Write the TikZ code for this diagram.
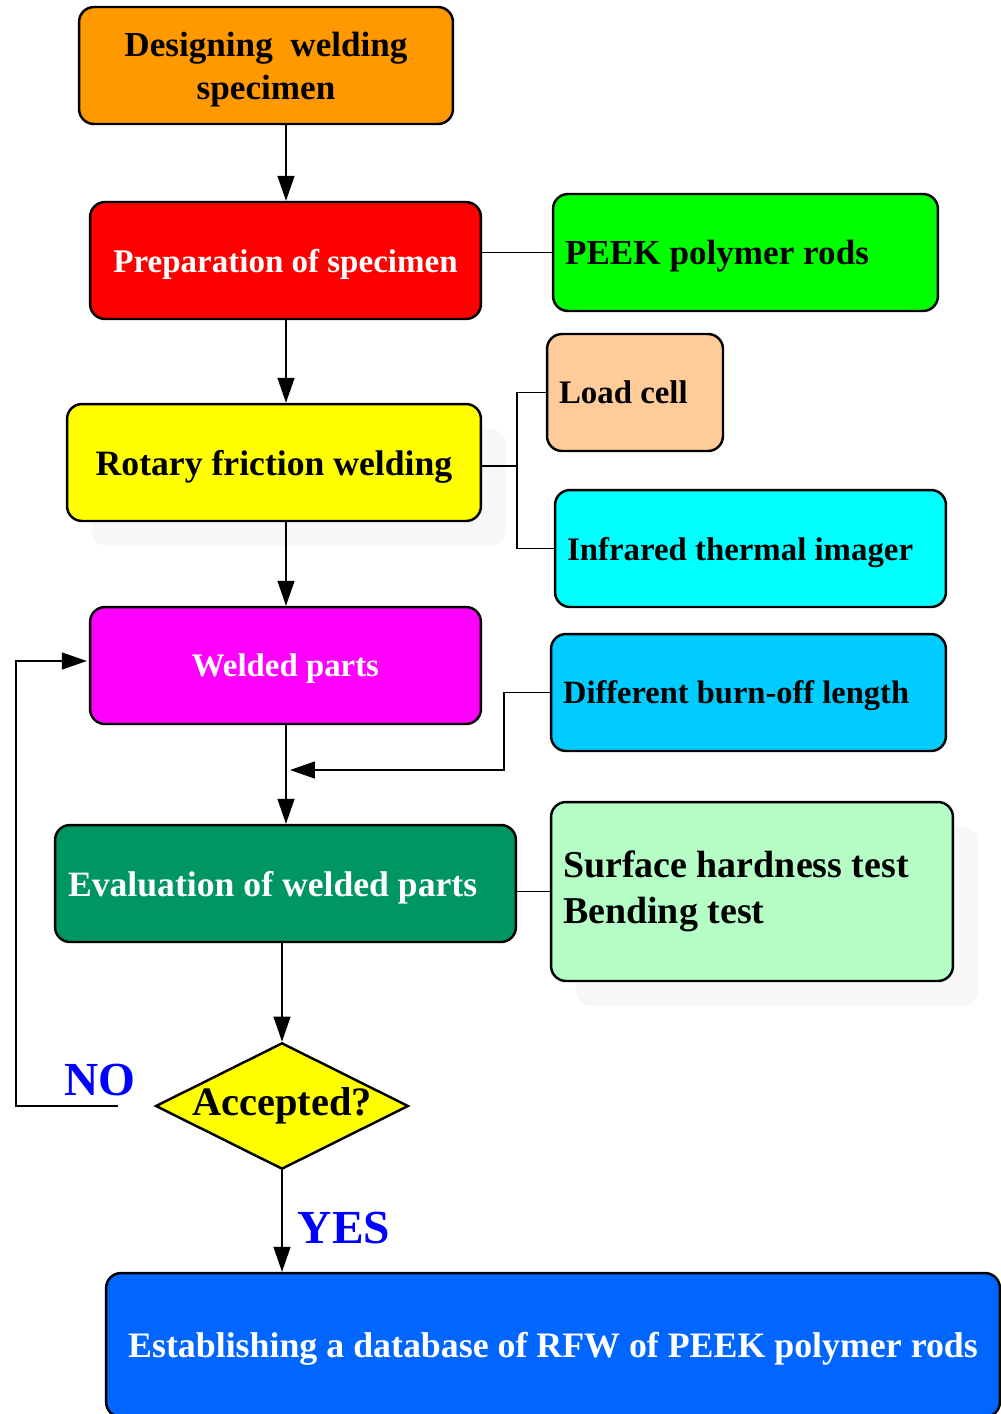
\documentclass[tikz,border=0pt]{standalone}
\usepackage{fontspec}
\setmainfont{Liberation Serif}
\usetikzlibrary{shapes.geometric, arrows.meta, shadows}
\usepackage{xcolor}

\definecolor{designorange}{HTML}{FF9900}
\definecolor{prepred}{HTML}{FF0000}
\definecolor{rodgreen}{HTML}{00FF00}
\definecolor{loadpeach}{HTML}{FFCC99}
\definecolor{weldyellow}{HTML}{FFFF00}
\definecolor{imagercyan}{HTML}{00FFFF}
\definecolor{partsmagenta}{HTML}{FF00FF}
\definecolor{burnblue}{HTML}{00CCFF}
\definecolor{evalgreen}{HTML}{009664}
\definecolor{testgreen}{HTML}{B5FFC6}
\definecolor{dbblue}{HTML}{0066FF}
\definecolor{answerblue}{HTML}{0000FF}

\begin{document}
\begin{tikzpicture}[
    x=0.02cm, y=-0.02cm,
    box/.style={rectangle, draw, line width=1.4pt, rounded corners=0.3cm, minimum height=2.34cm, inner sep=0pt, text depth=0pt, font=\bfseries\fontsize{18.7}{24}\selectfont, align=center},
    sidebox/.style={box, align=flush left, inner xsep=0.24cm},
    faint/.style={drop shadow={shadow xshift=0.5cm, shadow yshift=-0.5cm, fill=black!3, opacity=1}},
    link/.style={line width=0.8pt},
    flow/.style={link, -{Triangle[length=0.5cm, width=0.34cm]}},
    answer/.style={font=\bfseries\fontsize{27}{30}\selectfont, text=answerblue}
]
\clip (0,0) rectangle (1001,1414);

% main column
\node[box, fill=designorange, minimum width=7.48cm, font=\bfseries\fontsize{20}{24.4}\selectfont] (design) at (266,65.5) {Designing\ \ welding\\specimen};
\node[box, fill=prepred, text=white, minimum width=7.82cm, font=\bfseries\fontsize{18.8}{24}\selectfont] (prep) at (285.5,260.5) {Preparation of specimen};
\node[box, faint, fill=weldyellow, minimum width=8.28cm, font=\bfseries\fontsize{20.3}{24}\selectfont] (rotary) at (274,462.5) {Rotary friction welding};
\node[box, fill=partsmagenta, text=white, minimum width=7.82cm] (welded) at (285.5,665.5) {Welded parts};
\node[box, fill=evalgreen, text=white, minimum width=9.22cm, inner xsep=0.26cm, align=flush left, text width=8.7cm, font=\bfseries\fontsize{20.3}{24}\selectfont] (eval) at (285.5,883.5) {Evaluation of welded parts};
\node[diamond, draw, line width=1.4pt, fill=weldyellow, aspect=2, inner sep=0pt, minimum width=5cm, minimum height=2.52cm, font=\bfseries\fontsize{23}{26}\selectfont] (accepted) at (282,1106) {Accepted?};
\node[box, fill=dbblue, text=white, minimum width=17.88cm, minimum height=2.88cm, font=\bfseries\fontsize{20.4}{24}\selectfont] (database) at (553,1345) {Establishing a database of RFW of PEEK polymer rods};

% side boxes
\node[sidebox, fill=rodgreen, text width=7.22cm, font=\bfseries\fontsize{20}{24}\selectfont] (peek) at (745.5,252.5) {PEEK polymer rods};
\node[sidebox, fill=loadpeach, text width=3.04cm] (load) at (635,392.5) {Load cell};
\node[sidebox, fill=imagercyan, text width=7.34cm] (infrared) at (750.5,548.5) {Infrared thermal imager};
\node[sidebox, fill=burnblue, text width=7.42cm, font=\bfseries\fontsize{18.5}{24}\selectfont] (burnoff) at (748.5,692.5) {Different burn-off length};
\node[sidebox, faint, fill=testgreen, text width=7.56cm, minimum height=3.58cm, text depth={}, font=\bfseries\fontsize{21.6}{26}\selectfont] (tests) at (752,891.5) {Surface hardness test\\Bending test};

% labels
\node[answer] (no) at (100,1080) {NO};
\node[answer] (yes) at (344,1228) {YES};

% connectors
\coordinate (spine) at (286,0);
\coordinate (burnin) at (290,770);
\coordinate (nofoot) at (118,1106);
\draw[flow] (design.south -| spine) -- (prep.north -| spine);
\draw[link] (prep.east |- peek.west) -- (peek.west);
\draw[flow] (prep.south -| spine) -- (rotary.north -| spine);
\draw[link] ([yshift=-0.07cm]rotary.east) -- ++(35,0) coordinate (branch);
\draw[link] (load.west) -| (branch) |- (infrared.west);
\draw[flow] (rotary.south -| spine) -- (welded.north -| spine);
\draw[flow] (welded.south -| spine) -- (eval.north -| spine);
\draw[flow] (burnoff.west) -- ++(-46,0) |- (burnin);
\draw[link] (eval.east |- tests.west) -- (tests.west);
\draw[flow] (eval.south -| accepted.north) -- (accepted.north);
\draw[flow] (nofoot) -- ++(-102,0) |- ([xshift=-0.04cm, yshift=0.09cm]welded.west);
\draw[flow] (accepted.south) -- (accepted.south |- database.north);
\end{tikzpicture}
\end{document}
